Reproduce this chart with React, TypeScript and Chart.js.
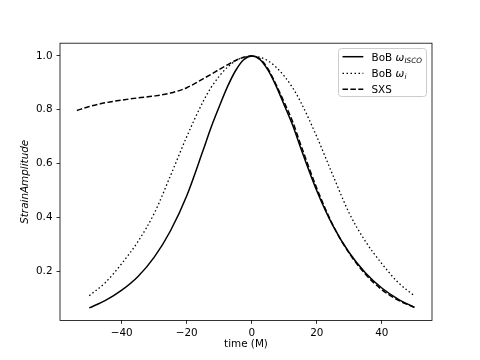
import React, { useEffect, useRef } from "react";
import { Chart, registerables } from "chart.js";

Chart.register(...registerables);

// ---- data ----
const bobIscoTime = [-50, -45, -40, -35, -30, -25, -20, -15, -12.5, -10, -7.5, -5, -2.5, 0, 2.5, 5, 7.5, 10, 12.5, 15, 20, 25, 30, 35, 40, 45, 50];
const bobIscoAmp = [0.063, 0.091, 0.129, 0.18, 0.252, 0.35, 0.48, 0.648, 0.735, 0.812, 0.885, 0.945, 0.986, 1.0, 0.987, 0.947, 0.888, 0.817, 0.745, 0.66, 0.499, 0.368, 0.268, 0.193, 0.137, 0.096, 0.065];

const bobOmegaTime = [-50, -45, -40, -35, -30, -25, -20, -15, -12.5, -10, -7.5, -5, -2.5, 0, 2.5, 5, 7.5, 10, 12.5, 15, 20, 25, 30, 35, 40, 45, 50];
const bobOmegaAmp = [0.108, 0.158, 0.228, 0.31, 0.415, 0.555, 0.7, 0.83, 0.883, 0.925, 0.958, 0.982, 0.995, 1.0, 0.995, 0.982, 0.958, 0.925, 0.883, 0.83, 0.7, 0.555, 0.415, 0.31, 0.228, 0.158, 0.108];

const sxsTime = [-53.8, -50, -45, -40, -35, -30, -25, -20, -15, -12.5, -10, -7.5, -5, -2.5, 0, 2.5, 5, 7.5, 10, 12.5, 15, 20, 25, 30, 35, 40, 45, 50.2];
const sxsAmp = [0.797, 0.812, 0.826, 0.836, 0.844, 0.851, 0.862, 0.882, 0.915, 0.932, 0.95, 0.967, 0.983, 0.995, 1.0, 0.989, 0.952, 0.893, 0.827, 0.758, 0.672, 0.508, 0.37, 0.266, 0.188, 0.131, 0.092, 0.064];

const xTicks = [-40, -20, 0, 20, 40];
const xTickLabels = ["\u221240", "\u221220", "0", "20", "40"];
const yTicks = [0.2, 0.4, 0.6, 0.8, 1.0];
const yTickLabels = ["0.2", "0.4", "0.6", "0.8", "1.0"];

const FONT = '"DejaVu Sans", "Liberation Sans", sans-serif';
const FS = 10.4;

const DOTTED = [1.5, 2.5];
const DASHED = [5.5, 2.4];

const boxPlugin = {
  id: "mplBox",
  afterDatasetsDraw(chart: any) {
    const { ctx, chartArea } = chart;
    ctx.save();
    ctx.strokeStyle = "#000";
    ctx.lineWidth = 0.8;
    ctx.strokeRect(chartArea.left, chartArea.top, chartArea.right - chartArea.left, chartArea.bottom - chartArea.top);
    ctx.restore();
  },
};

const legendPlugin = {
  id: "mplLegend",
  afterDraw(chart: any) {
    const ctx = chart.ctx as CanvasRenderingContext2D;
    const x0 = 338.5, y0 = 48.5, w = 88, h = 48, r = 3;
    ctx.save();
    ctx.beginPath();
    ctx.moveTo(x0 + r, y0);
    ctx.lineTo(x0 + w - r, y0);
    ctx.arcTo(x0 + w, y0, x0 + w, y0 + r, r);
    ctx.lineTo(x0 + w, y0 + h - r);
    ctx.arcTo(x0 + w, y0 + h, x0 + w - r, y0 + h, r);
    ctx.lineTo(x0 + r, y0 + h);
    ctx.arcTo(x0, y0 + h, x0, y0 + h - r, r);
    ctx.lineTo(x0, y0 + r);
    ctx.arcTo(x0, y0, x0 + r, y0, r);
    ctx.closePath();
    ctx.fillStyle = "rgba(255,255,255,0.8)";
    ctx.fill();
    ctx.strokeStyle = "#cccccc";
    ctx.lineWidth = 1;
    ctx.stroke();

    const rows = [
      { dash: [] as number[], lw: 1.5, base: "BoB ", sym: "\u03c9", sub: "ISCO", y: 56.7 },
      { dash: DOTTED, lw: 1.3, base: "BoB ", sym: "\u03c9", sub: "i", y: 73.3 },
      { dash: DASHED, lw: 1.5, base: "SXS", sym: "", sub: "", y: 89.3 },
    ];
    const hx0 = 342.5, hx1 = 363.3, tx = 371.5;
    for (const row of rows) {
      ctx.beginPath();
      ctx.setLineDash(row.dash);
      ctx.strokeStyle = "#000";
      ctx.lineWidth = row.lw;
      ctx.moveTo(hx0, row.y);
      ctx.lineTo(hx1, row.y);
      ctx.stroke();
      ctx.setLineDash([]);
      ctx.fillStyle = "#000";
      ctx.textBaseline = "alphabetic";
      ctx.textAlign = "left";
      const baseY = row.y + 3.8;
      ctx.font = `${FS}px ${FONT}`;
      ctx.fillText(row.base, tx, baseY);
      let cx = tx + ctx.measureText(row.base).width;
      if (row.sym) {
        ctx.font = `italic ${FS}px ${FONT}`;
        ctx.fillText(row.sym, cx, baseY);
        cx += ctx.measureText(row.sym).width + 0.3;
        ctx.font = `italic ${FS * 0.7}px ${FONT}`;
        ctx.fillText(row.sub, cx, baseY + 2.2);
      }
    }
    ctx.restore();
  },
};

export default function App() {
  const ref = useRef<HTMLCanvasElement | null>(null);

  useEffect(() => {
    if (!ref.current) return;
    document.body.style.margin = "0";
    Chart.defaults.color = "#000";
    const mk = (t: number[], a: number[]) => t.map((x, i) => ({ x, y: a[i] }));
    const chart = new Chart(ref.current, {
      type: "line",
      data: {
        datasets: [
          {
            label: "BoB ωISCO",
            data: mk(bobIscoTime, bobIscoAmp),
            borderColor: "#000",
            borderWidth: 1.5,
            pointRadius: 0,
            cubicInterpolationMode: "monotone",
            fill: false,
          },
          {
            label: "BoB ωi",
            data: mk(bobOmegaTime, bobOmegaAmp),
            borderColor: "#000",
            borderWidth: 1.3,
            borderDash: DOTTED,
            pointRadius: 0,
            cubicInterpolationMode: "monotone",
            fill: false,
          },
          {
            label: "SXS",
            data: mk(sxsTime, sxsAmp),
            borderColor: "#000",
            borderWidth: 1.5,
            borderDash: DASHED,
            pointRadius: 0,
            cubicInterpolationMode: "monotone",
            fill: false,
          },
        ],
      },
      options: {
        responsive: false,
        animation: false,
        devicePixelRatio: 1,
        layout: { padding: { left: 0, right: 48, top: 43.2, bottom: 0 } },
        plugins: {
          legend: { display: false },
          tooltip: { enabled: false },
        },
        scales: {
          x: {
            type: "linear",
            min: -59.0,
            max: 55.45,
            afterFit: (s: any) => {
              s.height = 39.6;
            },
            afterBuildTicks: (s: any) => {
              s.ticks = xTicks.map((v) => ({ value: v }));
            },
            ticks: {
              font: { family: FONT, size: FS },
              color: "#000",
              padding: 3.5,
              maxRotation: 0,
              autoSkip: false,
              callback: (_v: any, i: number) => xTickLabels[i],
            },
            grid: { drawOnChartArea: false, drawTicks: true, tickLength: 3.5, color: "#000", lineWidth: 0.8 },
            border: { display: false },
            title: {
              display: true,
              text: "time (M)",
              font: { family: FONT, size: FS },
              color: "#000",
              padding: { top: 0, bottom: 9.3 },
            },
          },
          y: {
            type: "linear",
            min: 0.0165,
            max: 1.0475,
            afterFit: (s: any) => {
              s.width = 60;
            },
            afterBuildTicks: (s: any) => {
              s.ticks = yTicks.map((v) => ({ value: v }));
            },
            ticks: {
              font: { family: FONT, size: FS },
              color: "#000",
              padding: 4,
              autoSkip: false,
              callback: (_v: any, i: number) => yTickLabels[i],
            },
            grid: { drawOnChartArea: false, drawTicks: true, tickLength: 3.5, color: "#000", lineWidth: 0.8 },
            border: { display: false },
            title: {
              display: true,
              text: "StrainAmplitude",
              font: { family: FONT, size: FS, style: "italic" },
              color: "#000",
              padding: { top: 18.8, bottom: 0 },
            },
          },
        },
      },
      plugins: [boxPlugin, legendPlugin],
    } as any);
    return () => chart.destroy();
  }, []);

  return (
    <div style={{ position: "absolute", left: 0, top: 0, width: 480, height: 360 }}>
      <canvas ref={ref} width={480} height={360} style={{ display: "block" }} />
    </div>
  );
}
